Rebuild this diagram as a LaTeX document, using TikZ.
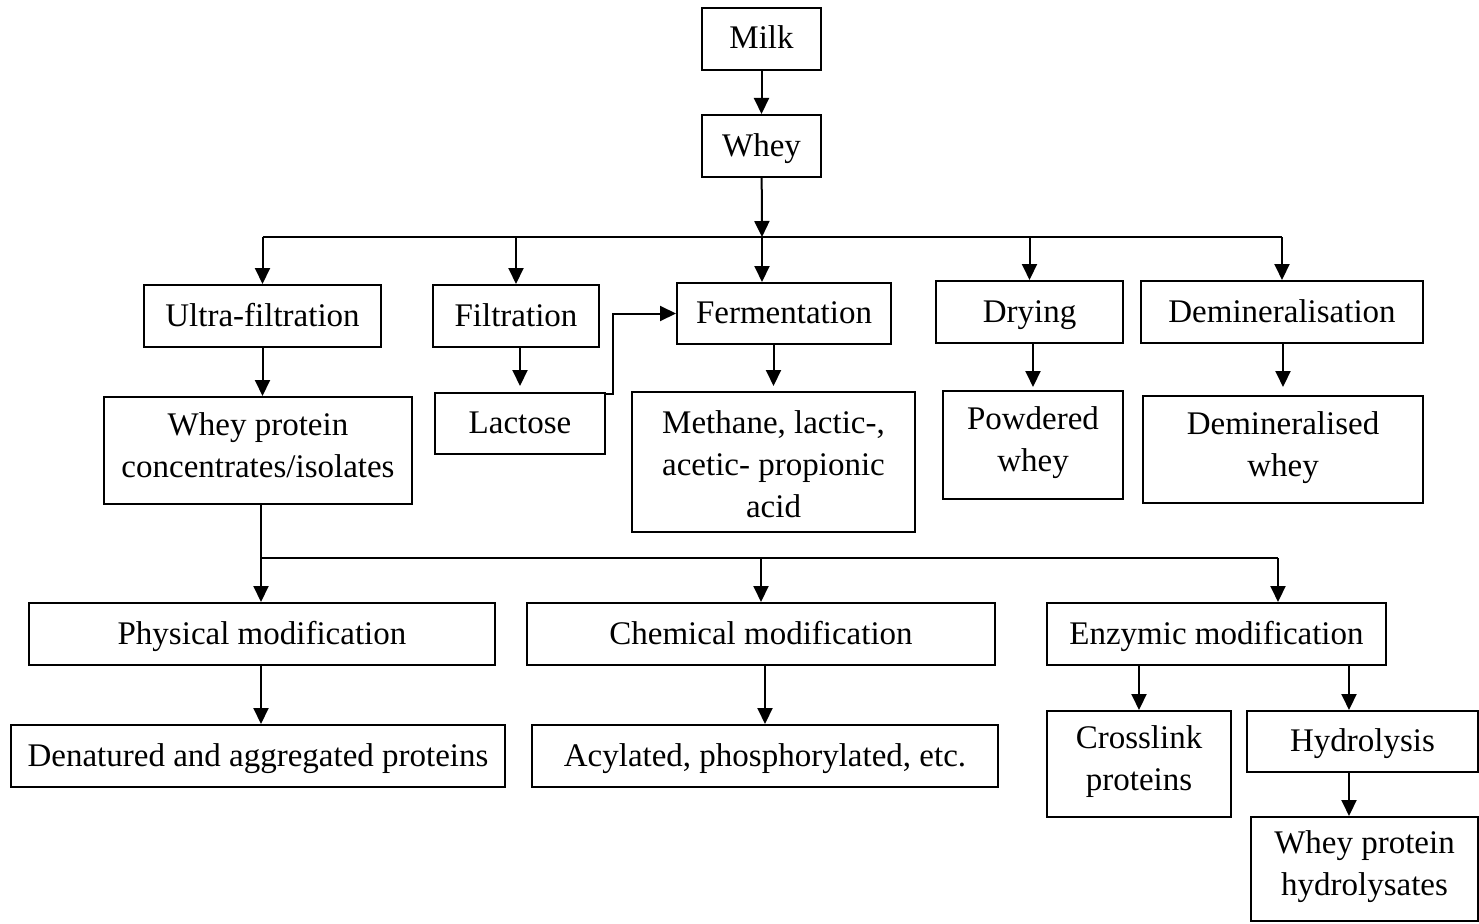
\documentclass[tikz,border=0pt]{standalone}
\usepackage{fontspec}
\setmainfont{Liberation Serif}
\usetikzlibrary{arrows.meta}
\newcommand\boxstrut{\rule[-11pt]{0pt}{42pt}}

\begin{document}
\begin{tikzpicture}[>={Triangle[length=16pt,width=15pt]},x=1pt,y=-1pt,line width=2pt,
    box/.style={draw,align=center,inner sep=0pt,font=\fontsize{33}{42}\selectfont,
        execute at begin node=\boxstrut,execute at end node=\boxstrut}]
    \useasboundingbox (0,0) rectangle (1479,923);
    \node[box,minimum width=119pt,minimum height=62pt](milk) at (761.5,39){Milk};
    \node[box,minimum width=119pt,minimum height=62pt](whey) at (761.5,146){Whey};
    \node[box,minimum width=237pt,minimum height=62pt](ultra) at (262.5,316){Ultra-filtration};
    \node[box,minimum width=166pt,minimum height=62pt](filt) at (516,316){Filtration};
    \node[box,minimum width=214pt,minimum height=61pt](ferm) at (784,313.5){Fermentation};
    \node[box,minimum width=187pt,minimum height=62pt](dry) at (1029.5,312){Drying};
    \node[box,minimum width=282pt,minimum height=62pt](demin) at (1282,312){Demineralisation};
    \node[box,minimum width=308pt,minimum height=107pt](wpc) at (258,450.5){Whey protein\\concentrates/isolates};
    \node[box,minimum width=170pt,minimum height=61pt](lac) at (520,423.5){Lactose};
    \node[box,minimum width=283pt,minimum height=140pt](meth) at (773.5,462){\rule[-11pt]{0pt}{48pt}Methane, lactic-,\\acetic- propionic\\acid};
    \node[box,minimum width=180pt,minimum height=108pt](powd) at (1033,445){Powdered\\whey};
    \node[box,minimum width=280pt,minimum height=107pt](demw) at (1283,449.5){Demineralised\\whey};
    \node[box,minimum width=466pt,minimum height=62pt](phys) at (262,634){Physical modification};
    \node[box,minimum width=468pt,minimum height=62pt](chem) at (761,634){Chemical modification};
    \node[box,minimum width=339pt,minimum height=62pt](enz) at (1216.5,634){Enzymic modification};
    \node[box,minimum width=494pt,minimum height=62pt](den) at (258,756){Denatured and aggregated proteins};
    \node[box,minimum width=466pt,minimum height=62pt](acyl) at (765,756){Acylated, phosphorylated, etc.};
    \node[box,minimum width=184pt,minimum height=106pt](cross) at (1139,764){Crosslink\\proteins};
    \node[box,minimum width=231pt,minimum height=61pt](hyd) at (1362.5,741.5){Hydrolysis};
    \node[box,minimum width=227pt,minimum height=104pt](wph) at (1364.5,869){Whey protein\\hydrolysates};
    \coordinate (busA) at (762,237);
    \coordinate (busB) at (261,558);
    \coordinate (busBend) at (1278,558);
    \coordinate (hydin) at (1349,0);
    \draw[->] (milk) -- (whey);
    \draw[->] (whey) -- (busA);
    \draw (ultra.north |- busA) -- (demin.north |- busA);
    \foreach \n in {ultra,filt,dry,demin}
        \draw[->] (\n.north |- busA) -- (\n.north);
    \draw[->] (busA) -- (busA |- ferm.north);
    \draw[->] (ultra) -- (ultra |- wpc.north);
    \draw[->,shorten >=6pt] (lac.north |- filt.south) -- (lac.north);
    \draw[->] ([yshift=-2pt]lac.north east) -- ++(7,0) |- (ferm.west);
    \draw[->,shorten >=5pt] (meth.north |- ferm.south) -- (meth.north);
    \draw[->,shorten >=3pt] (powd.north |- dry.south) -- (powd.north);
    \draw[->,shorten >=8pt] (demw.north |- demin.south) -- (demw.north);
    \draw (wpc.south -| busB) -- (busB) -- (busBend);
    \draw[->] (busB) -- (busB |- phys.north);
    \draw[->] (chem.north |- busB) -- (chem.north);
    \draw[->] (busBend) -- (busBend |- enz.north);
    \draw[->] (phys.south -| busB) -- (den.north -| busB);
    \draw[->] (chem.south -| acyl.north) -- (acyl.north);
    \draw[->] (cross.north |- enz.south) -- (cross.north);
    \draw[->] (enz.south -| hydin) -- (hyd.north -| hydin);
    \draw[->] (hyd.south -| hydin) -- (wph.north -| hydin);
\end{tikzpicture}
\end{document}
